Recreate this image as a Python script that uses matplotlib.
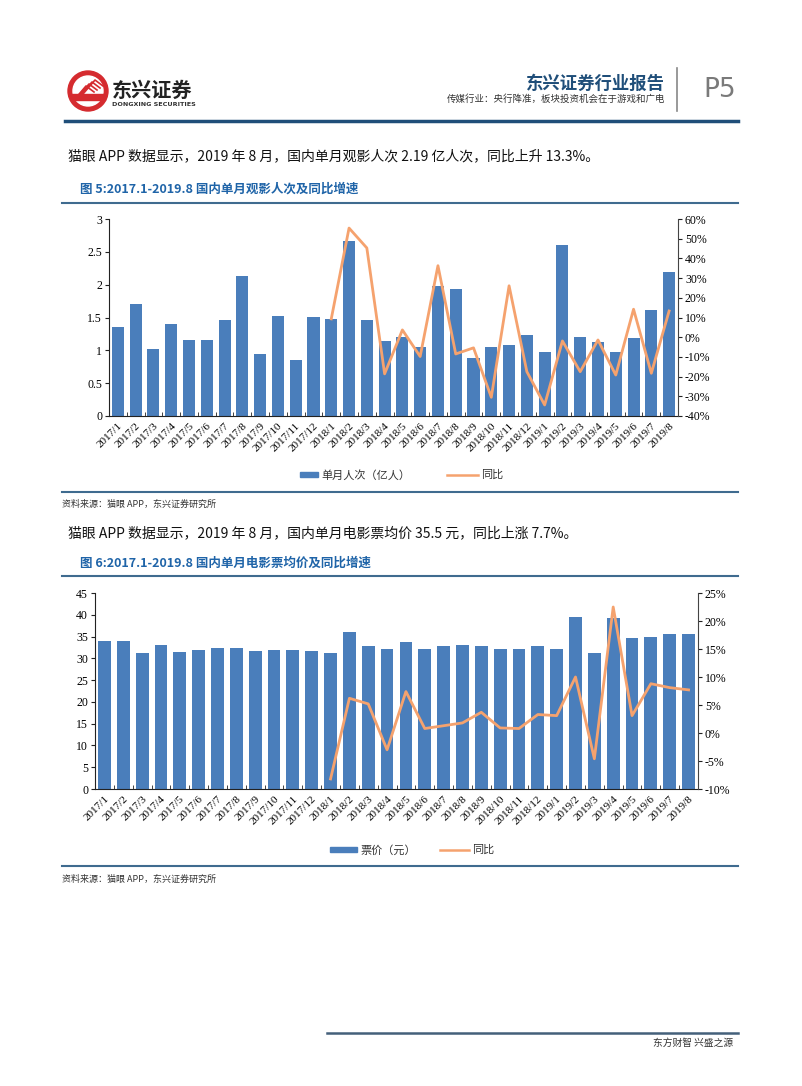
import matplotlib
matplotlib.use('Agg')
import matplotlib.pyplot as plt
import numpy as np
from matplotlib.lines import Line2D
from matplotlib.patches import Rectangle, Ellipse
from matplotlib.ticker import FixedLocator

plt.rcParams['font.family'] = ['Noto Sans CJK SC', 'DejaVu Sans']

# 月份标签
months = [f'{y}/{m}' for y in (2017, 2018) for m in range(1, 13)] + [f'2019/{m}' for m in range(1, 9)]

# 图5: 单月观影人次（亿人）及同比
persons = [1.35, 1.70, 1.02, 1.40, 1.16, 1.16, 1.46, 2.13, 0.94, 1.52, 0.85, 1.51,
           1.48, 2.66, 1.46, 1.14, 1.20, 1.05, 1.98, 1.93, 0.88, 1.05, 1.08, 1.24,
           0.97, 2.61, 1.21, 1.12, 0.97, 1.19, 1.61, 2.19]
persons_yoy = [9.3, 55.4, 45.3, -18.6, 3.7, -9.8, 36.3, -8.5, -5.4, -30.5, 26.1, -17.5,
               -34.4, -1.9, -17.5, -1.4, -19.2, 14.2, -18.3, 13.3]

# 图6: 单月电影票均价（元）及同比
price = [33.9, 33.9, 31.2, 33.0, 31.4, 31.8, 32.3, 32.3, 31.6, 31.8, 31.8, 31.6,
         31.2, 36.0, 32.8, 32.1, 33.7, 32.1, 32.8, 33.0, 32.8, 32.1, 32.1, 32.8,
         32.1, 39.5, 31.3, 39.3, 34.6, 34.9, 35.5, 35.5]
price_yoy = [-8.2, 6.2, 5.2, -3.0, 7.4, 0.8, 1.3, 1.8, 3.7, 0.9, 0.8, 3.3,
             3.1, 10.0, -4.6, 22.5, 3.1, 8.8, 8.1, 7.7]

BAR = '#4a7ebb'
LINE = '#f5a26e'
NAVY = '#1f4e79'
TITLE = '#1f64a8'
RULE = '#3f6b8f'

W, H = 802, 1086
fig = plt.figure(figsize=(W / 100, H / 100), dpi=100)


def fx(px):
    return px / W


def fy(py):
    return 1 - py / H


def hline(x0, x1, y, color=RULE, lw=1.2):
    fig.add_artist(Line2D([fx(x0), fx(x1)], [fy(y), fy(y)], color=color, lw=lw))


def txt(x, y, s, **kw):
    fig.text(fx(x), fy(y), s, **kw)


# ---- 页眉 ----
fig.add_artist(Ellipse((fx(88), fy(91)), 40 / W, 40 / H, color='#d52b2f'))
fig.add_artist(Ellipse((fx(88), fy(91)), 30 / W, 30 / H, color='white'))
for k in range(4):
    fig.add_artist(Line2D([fx(74 + k * 3), fx(86 + k * 3), fx(94 + k * 3)],
                          [fy(100 - k * 2), fy(86 - k * 2), fy(92 - k * 2)],
                          color='#d52b2f', lw=1.2))
fig.add_artist(Rectangle((fx(72), fy(100)), 33 / W, 6 / H, color='#d52b2f'))
txt(112, 90, '东兴证券', fontsize=14.5, fontweight='bold', color='#222222', va='center')
txt(112, 105, 'DONGXING SECURITIES', fontsize=4.6, fontweight='bold', color='#333333',
    va='center', family='DejaVu Sans')
txt(665, 84, '东兴证券行业报告', fontsize=12.5, fontweight='bold', color=NAVY, ha='right', va='center')
txt(665, 99, '传媒行业：央行降准，板块投资机会在于游戏和广电', fontsize=6.8, color='#333333',
    ha='right', va='center')
fig.add_artist(Line2D([fx(677), fx(677)], [fy(68), fy(111)], color='#888888', lw=1.2))
txt(703, 90, 'P5', fontsize=19, color='#7a7a7a', va='center', family='DejaVu Sans')
hline(65, 738, 121, color=NAVY, lw=2.5)

# ---- 正文1 + 图5标题 ----
txt(68, 156, '猫眼 APP 数据显示，2019 年 8 月，国内单月观影人次 2.19 亿人次，同比上升 13.3%。',
    fontsize=10, color='#111111', va='center')
txt(80, 189, '图 5:2017.1-2019.8 国内单月观影人次及同比增速', fontsize=9, fontweight='bold',
    color=TITLE, va='center')
hline(62, 738, 203, lw=1.5)

x = np.arange(len(months))
x_yoy = x[12:]

serif = dict(family='Liberation Serif', size=8.5)


def style_axes(ax, axr, ylim, yticks, ylabels, rlim, rticks, rlabels):
    ax.set_xlim(-0.5, len(months) - 0.5)
    ax.set_ylim(*ylim)
    ax.set_yticks(yticks)
    ax.set_yticklabels(ylabels, **serif)
    ax.set_xticks(x)
    ax.set_xticklabels(months, rotation=45, ha='right', rotation_mode='anchor',
                       family='Liberation Serif', size=8)
    ax.tick_params(axis='x', length=0, pad=4)
    ax.xaxis.set_minor_locator(FixedLocator(np.arange(-0.5, len(months), 1.0)))
    ax.tick_params(axis='x', which='minor', length=3, direction='in', color='#222222')
    ax.tick_params(axis='y', length=3, color='#222222', pad=2)
    for s in ('top', 'right'):
        ax.spines[s].set_visible(False)
    axr.set_ylim(*rlim)
    axr.set_yticks(rticks)
    axr.set_yticklabels(rlabels, **serif)
    axr.tick_params(axis='y', length=3, color='#222222', pad=2)
    for s in ('top', 'left', 'bottom'):
        axr.spines[s].set_visible(False)
    axr.spines['right'].set_color('#444444')
    ax.spines['left'].set_color('#222222')
    ax.spines['bottom'].set_color('#222222')


# ---- 图5 ----
ax1 = fig.add_axes([fx(109), fy(416), (678 - 109) / W, (416 - 219) / H])
ax1.bar(x, persons, width=0.68, color=BAR, zorder=2)
ax1r = ax1.twinx()
ax1r.plot(x_yoy, persons_yoy, color=LINE, lw=2)
style_axes(ax1, ax1r, (0, 3), np.arange(0, 3.01, 0.5),
           ['0', '0.5', '1', '1.5', '2', '2.5', '3'],
           (-40, 60), np.arange(-40, 61, 10), [f'{v}%' for v in range(-40, 61, 10)])

fig.add_artist(Rectangle((fx(300), fy(477)), 18 / W, 5 / H, color=BAR))
txt(321, 475, '单月人次（亿人）', fontsize=8, color='#333333', va='center')
fig.add_artist(Line2D([fx(447), fx(478)], [fy(475), fy(475)], color=LINE, lw=1.8))
txt(481, 475, '同比', fontsize=8, color='#333333', va='center')
hline(62, 738, 492, lw=1.5)
txt(62, 504, '资料来源：猫眼 APP，东兴证券研究所', fontsize=6.5, style='italic',
    color='#333333', va='center')

# ---- 正文2 + 图6标题 ----
txt(68, 533, '猫眼 APP 数据显示，2019 年 8 月，国内单月电影票均价 35.5 元，同比上涨 7.7%。',
    fontsize=10, color='#111111', va='center')
txt(80, 563, '图 6:2017.1-2019.8 国内单月电影票均价及同比增速', fontsize=9, fontweight='bold',
    color=TITLE, va='center')
hline(62, 738, 576, lw=1.5)

# ---- 图6 ----
ax2 = fig.add_axes([fx(95), fy(789), (698 - 95) / W, (789 - 593) / H])
ax2.bar(x, price, width=0.68, color=BAR, zorder=2)
ax2r = ax2.twinx()
ax2r.plot(x_yoy, price_yoy, color=LINE, lw=2)
style_axes(ax2, ax2r, (0, 45), np.arange(0, 46, 5), [str(v) for v in range(0, 46, 5)],
           (-10, 25), np.arange(-10, 26, 5), [f'{v}%' for v in range(-10, 26, 5)])

fig.add_artist(Rectangle((fx(330), fy(852)), 27 / W, 5 / H, color=BAR))
txt(360, 850, '票价（元）', fontsize=8, color='#333333', va='center')
fig.add_artist(Line2D([fx(440), fx(469)], [fy(850), fy(850)], color=LINE, lw=1.8))
txt(472, 850, '同比', fontsize=8, color='#333333', va='center')
hline(62, 738, 866, lw=1.5)
txt(62, 879, '资料来源：猫眼 APP，东兴证券研究所', fontsize=6.5, style='italic',
    color='#333333', va='center')

# ---- 页脚 ----
hline(327, 738, 1033, color='#44607a', lw=1.8)
txt(733, 1043, '东方财智 兴盛之源', fontsize=7, color='#333333', ha='right', va='center')

plt.savefig('out.png', dpi=100)
